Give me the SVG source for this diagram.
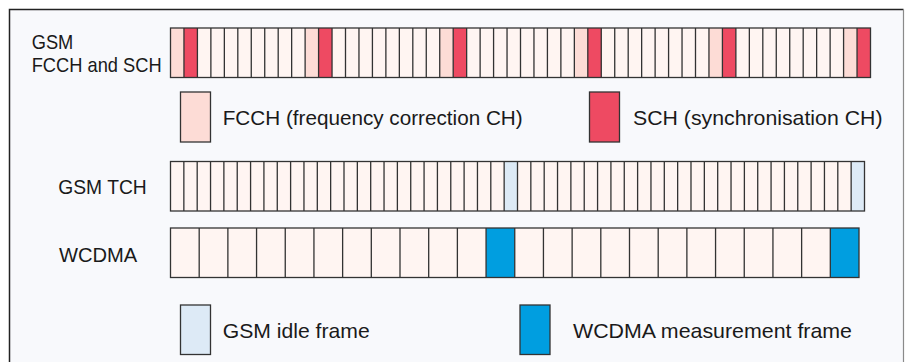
<svg xmlns="http://www.w3.org/2000/svg" width="906" height="362" viewBox="0 0 906 362">
<style>
.t{font-family:"Liberation Sans",Arial,sans-serif;font-size:21px;fill:#1a1a1a}
.cell{stroke:#333;stroke-width:1.3}
.base{fill:#fff5f2}
.fcch{fill:#fddcd6}
.sch{fill:#ee4a62}
.idle{fill:#ddeaf6}
.meas{fill:#009ee0}
.div{stroke:#333;stroke-width:1.3;fill:none}
</style>
<rect x="0" y="0" width="906" height="362" fill="#ffffff"/>
<g id="frame">
<rect x="9" y="9" width="894.5" height="360" fill="#f8f9fc"/>
<path d="M9.5 362V9.5H903.5" fill="none" stroke="#222" stroke-width="1.5"/>
<path d="M903.5 9.5V362" fill="none" stroke="#8a8a8a" stroke-width="1.2"/>
</g>
<g id="labels">
<text class="t" x="31.7" y="49.3" textLength="41.6" lengthAdjust="spacingAndGlyphs">GSM</text>
<text class="t" x="31.7" y="71.7" textLength="130" lengthAdjust="spacingAndGlyphs">FCCH and SCH</text>
<text class="t" x="58.3" y="194" textLength="88.4" lengthAdjust="spacingAndGlyphs">GSM TCH</text>
<text class="t" x="59" y="261.7" textLength="78.3" lengthAdjust="spacingAndGlyphs">WCDMA</text>
</g>
<g id="row-gsm-fcch-sch">
<rect class="base" x="170.5" y="28" width="700" height="49.5"/>
<g class="fcch">
<rect x="170.5" y="28" width="13.46" height="49.5"/>
<rect x="305.12" y="28" width="13.46" height="49.5"/>
<rect x="439.73" y="28" width="13.46" height="49.5"/>
<rect x="574.35" y="28" width="13.46" height="49.5"/>
<rect x="708.96" y="28" width="13.46" height="49.5"/>
<rect x="843.58" y="28" width="13.46" height="49.5"/>
</g>
<g class="sch">
<rect x="183.96" y="28" width="13.46" height="49.5"/>
<rect x="318.58" y="28" width="13.46" height="49.5"/>
<rect x="453.19" y="28" width="13.46" height="49.5"/>
<rect x="587.81" y="28" width="13.46" height="49.5"/>
<rect x="722.42" y="28" width="13.46" height="49.5"/>
<rect x="857.04" y="28" width="13.46" height="49.5"/>
</g>
<path class="div" d="M183.96 28V77.5M197.42 28V77.5M210.88 28V77.5M224.35 28V77.5M237.81 28V77.5M251.27 28V77.5M264.73 28V77.5M278.19 28V77.5M291.65 28V77.5M305.12 28V77.5M318.58 28V77.5M332.04 28V77.5M345.5 28V77.5M358.96 28V77.5M372.42 28V77.5M385.88 28V77.5M399.35 28V77.5M412.81 28V77.5M426.27 28V77.5M439.73 28V77.5M453.19 28V77.5M466.65 28V77.5M480.12 28V77.5M493.58 28V77.5M507.04 28V77.5M520.5 28V77.5M533.96 28V77.5M547.42 28V77.5M560.88 28V77.5M574.35 28V77.5M587.81 28V77.5M601.27 28V77.5M614.73 28V77.5M628.19 28V77.5M641.65 28V77.5M655.12 28V77.5M668.58 28V77.5M682.04 28V77.5M695.5 28V77.5M708.96 28V77.5M722.42 28V77.5M735.88 28V77.5M749.35 28V77.5M762.81 28V77.5M776.27 28V77.5M789.73 28V77.5M803.19 28V77.5M816.65 28V77.5M830.12 28V77.5M843.58 28V77.5M857.04 28V77.5"/>
<rect class="div" x="170.5" y="28" width="700" height="49.5"/>
</g>
<g id="legend-fcch">
<rect class="fcch cell" x="180.5" y="92" width="30" height="50"/>
<text class="t" x="222.7" y="125" textLength="300" lengthAdjust="spacingAndGlyphs">FCCH (frequency correction CH)</text>
</g>
<g id="legend-sch">
<rect class="sch cell" x="589.5" y="92" width="30" height="50"/>
<text class="t" x="633" y="125" textLength="249.5" lengthAdjust="spacingAndGlyphs">SCH (synchronisation CH)</text>
</g>
<g id="row-gsm-tch">
<rect class="base" x="170.5" y="161.5" width="694" height="49.5"/>
<rect class="idle" x="504.15" y="161.5" width="13.35" height="49.5"/>
<rect class="idle" x="851.15" y="161.5" width="13.35" height="49.5"/>
<path class="div" d="M183.85 161.5V211M197.19 161.5V211M210.54 161.5V211M223.88 161.5V211M237.23 161.5V211M250.58 161.5V211M263.92 161.5V211M277.27 161.5V211M290.61 161.5V211M303.96 161.5V211M317.31 161.5V211M330.65 161.5V211M344 161.5V211M357.34 161.5V211M370.69 161.5V211M384.04 161.5V211M397.38 161.5V211M410.73 161.5V211M424.07 161.5V211M437.42 161.5V211M450.77 161.5V211M464.11 161.5V211M477.46 161.5V211M490.8 161.5V211M504.15 161.5V211M517.5 161.5V211M530.84 161.5V211M544.19 161.5V211M557.53 161.5V211M570.88 161.5V211M584.23 161.5V211M597.57 161.5V211M610.92 161.5V211M624.26 161.5V211M637.61 161.5V211M650.96 161.5V211M664.3 161.5V211M677.65 161.5V211M690.99 161.5V211M704.34 161.5V211M717.69 161.5V211M731.03 161.5V211M744.38 161.5V211M757.72 161.5V211M771.07 161.5V211M784.42 161.5V211M797.76 161.5V211M811.11 161.5V211M824.45 161.5V211M837.8 161.5V211M851.15 161.5V211"/>
<rect class="div" x="170.5" y="161.5" width="694" height="49.5"/>
</g>
<g id="row-wcdma">
<rect class="base" x="170.5" y="228" width="688.5" height="49.5"/>
<rect class="meas" x="486.06" y="228" width="28.69" height="49.5"/>
<rect class="meas" x="830.31" y="228" width="28.69" height="49.5"/>
<path class="div" d="M199.19 228V277.5M227.88 228V277.5M256.56 228V277.5M285.25 228V277.5M313.94 228V277.5M342.63 228V277.5M371.31 228V277.5M400 228V277.5M428.69 228V277.5M457.38 228V277.5M486.06 228V277.5M514.75 228V277.5M543.44 228V277.5M572.13 228V277.5M600.81 228V277.5M629.5 228V277.5M658.19 228V277.5M686.88 228V277.5M715.56 228V277.5M744.25 228V277.5M772.94 228V277.5M801.63 228V277.5M830.31 228V277.5"/>
<rect class="div" x="170.5" y="228" width="688.5" height="49.5"/>
</g>
<g id="legend-idle">
<rect class="idle cell" x="180.5" y="305" width="30" height="49.5"/>
<text class="t" x="222.7" y="338.3" textLength="147" lengthAdjust="spacingAndGlyphs">GSM idle frame</text>
</g>
<g id="legend-meas">
<rect class="meas cell" x="520" y="305" width="30" height="49.5"/>
<text class="t" x="573" y="338.3" textLength="279" lengthAdjust="spacingAndGlyphs">WCDMA measurement frame</text>
</g>
</svg>
